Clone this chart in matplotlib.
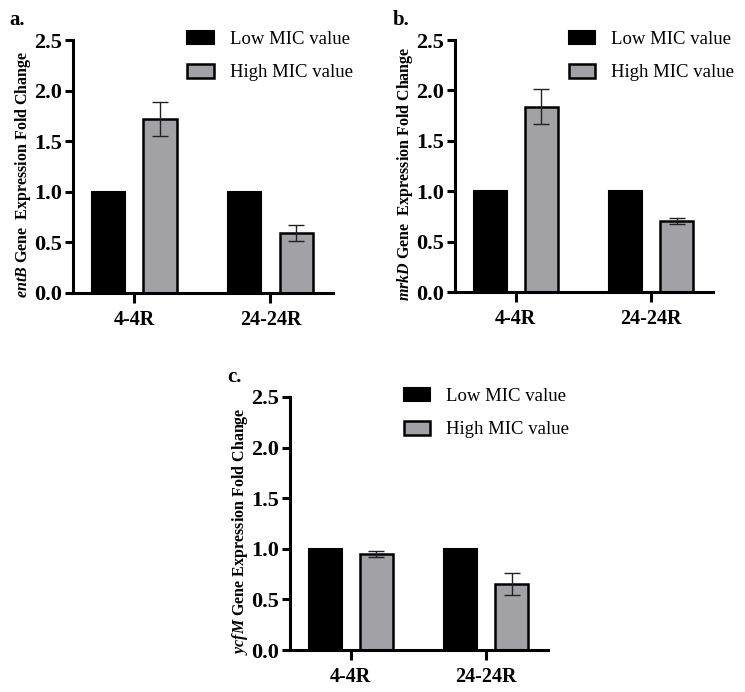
import numpy as np
import matplotlib
matplotlib.use("Agg")
import matplotlib.pyplot as plt

plt.rcParams['font.family'] = 'Liberation Serif'
plt.rcParams['mathtext.fontset'] = 'custom'
plt.rcParams['mathtext.it'] = 'Liberation Serif:italic:bold'
plt.rcParams['mathtext.rm'] = 'Liberation Serif:bold'

groups = ['4-4R', '24-24R']
series = ['Low MIC value', 'High MIC value']

genes = ['entB', 'mrkD', 'ycfM']
panel_tags = ['a.', 'b.', 'c.']
low_vals = [[1.0, 1.0], [1.0, 1.0], [1.0, 1.0]]
high_vals = [[1.72, 0.59], [1.84, 0.70], [0.95, 0.65]]
high_err = [[0.17, 0.08], [0.17, 0.03], [0.03, 0.11]]
ylabel_gap = ['  ', '  ', ' ']

W, H = 745, 692
fig = plt.figure(figsize=(W / 100, H / 100), dpi=100)


def px_axes(left, top, right, bottom):
    return fig.add_axes([left / W, 1 - bottom / H, (right - left) / W, (bottom - top) / H])


def draw_panel(ax, k):
    x = np.arange(len(groups))
    off, w = 0.19, 0.245
    ax.bar(x - off, low_vals[k], w, color='black', edgecolor='black', linewidth=1.5,
           label=series[0], zorder=2)
    ax.bar(x + off, high_vals[k], w, color='#a2a2a6', edgecolor='black', linewidth=1.8,
           label=series[1], zorder=2)
    ax.errorbar(x + off, high_vals[k], yerr=high_err[k], fmt='none', ecolor='#222222',
                elinewidth=1.0, capsize=5.5, capthick=1.0, zorder=3)
    ax.set_xlim(-0.45, 1.46)
    ax.set_ylim(0, 2.5)
    ax.set_yticks([0, 0.5, 1.0, 1.5, 2.0, 2.5])
    ax.set_yticklabels(['0.0', '0.5', '1.0', '1.5', '2.0', '2.5'])
    ax.set_xticks(x)
    ax.set_xticklabels(groups)
    for s in ['top', 'right']:
        ax.spines[s].set_visible(False)
    for s in ['left', 'bottom']:
        ax.spines[s].set_linewidth(2.2)
    ax.tick_params(axis='y', width=2.2, length=6, labelsize=16, pad=2)
    ax.tick_params(axis='x', width=2.2, length=7, labelsize=14.5, pad=5.5)
    for t in ax.get_xticklabels() + ax.get_yticklabels():
        t.set_fontweight('bold')
    ax.set_ylabel(r'$\mathit{' + genes[k] + '}$ Gene' + ylabel_gap[k] + 'Expression Fold Change',
                  fontsize=11.5, fontweight='bold')
    ax.yaxis.set_label_coords(-0.155, 0.47)
    ax.legend(loc='upper left', bbox_to_anchor=(0.44, 1.037), frameon=False, fontsize=13.5,
              handlelength=1.4, handleheight=0.75, handletextpad=0.85, labelspacing=0.85,
              borderpad=0, borderaxespad=0)
    ax.text(-0.243, 1.06, panel_tags[k], transform=ax.transAxes, fontsize=15,
            fontweight='bold', va='baseline', ha='left')


draw_panel(px_axes(73, 40, 333, 293), 0)
draw_panel(px_axes(455, 40, 713, 292), 1)
draw_panel(px_axes(290, 397, 548, 650), 2)

fig.savefig('out.png', dpi=100, facecolor='white')
